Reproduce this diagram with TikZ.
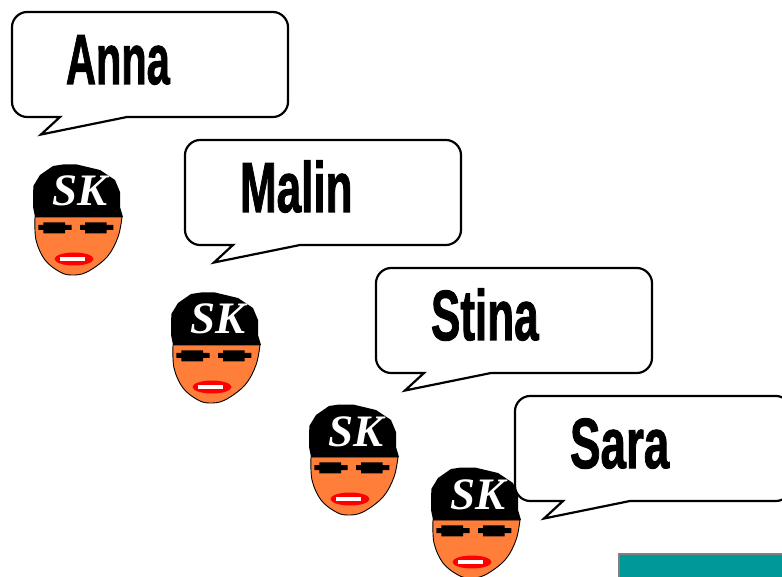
\documentclass[tikz,border=0pt]{standalone}
\usepackage{fontspec}
\usepackage{graphicx}
\setmainfont{Liberation Serif}
\newfontfamily\namefont[BoldFeatures={FakeBold=1.6}]{Liberation Sans}
\tikzset{
  bubbleline/.style={draw=black,fill=white,line width=2.2pt,line join=miter},
  namelabel/.style={anchor=base west,inner sep=0pt,outer sep=0pt,font=\namefont\bfseries\fontsize{71}{71}\selectfont},
  pics/face/.style={code={
    \path[fill=faceorange,draw=black,line width=0.9pt]
      plot[smooth,tension=0.6] coordinates {(2,52) (3,75) (12,95) (27,107) (39,110) (54,107) (74,92) (85,72) (89,52)} -- cycle;
    \path[fill=black]
      (2,52) -- (0,42) -- (0.3,21) -- (7,10) -- (20,1) -- (30,-0.5) -- (44,-0.5) -- (67,5) -- (82,15) -- (87,27) -- (87,42) -- (90,52) -- cycle;
    \fill[black] (10.3,57.3) rectangle (32,68.3) (5.3,60) rectangle (38.7,65)
                 (52,57.3) rectangle (73.7,68.3) (47,60) rectangle (80.3,65);
    \fill[red] (41,94) ellipse [x radius=19.5,y radius=6.5];
    \fill[white] (27,91.7) rectangle (52,96);
    \node[anchor=base,inner sep=0pt,text=white,font=\rmfamily\bfseries\itshape\fontsize{45}{45}\selectfont] at (47,41) {SK};
  }},
  pics/bubble/.style={code={
    \path[bubbleline]
      (15,0) -- (261,0) .. controls (269,0) and (276,7) .. (276,15) -- (276,90)
      .. controls (276,98) and (269,105) .. (261,105) -- (115,105) -- (29,122.5) -- (48,105) -- (15,105)
      .. controls (7,105) and (0,98) .. (0,90) -- (0,15) .. controls (0,7) and (7,0) .. (15,0) -- cycle;
  }},
}
\definecolor{faceorange}{HTML}{FF7F3A}
\definecolor{tealbox}{HTML}{009999}
\newcommand{\nameword}[2]{\scalebox{#1}[1]{#2}}
\begin{document}
\begin{tikzpicture}[x=1pt,y=-1pt]
\useasboundingbox (0,0) rectangle (782,577);
\clip (0,0) rectangle (782,577);
\fill[white] (0,0) rectangle (782,577);
\path[draw=gray,fill=tealbox,line width=2pt] (619,554) rectangle (800,600);
\pic at (33,165) {face};
\pic at (171,293) {face};
\pic at (309,405) {face};
\pic at (431,468) {face};
\pic at (12,12) {bubble};
\pic at (185,140) {bubble};
\pic at (376,268) {bubble};
\pic at (515,396) {bubble};
\node[namelabel] (anna) at (66,84) {\nameword{0.585}{Anna}};
\node[namelabel] (malin) at (240,212) {\nameword{0.62}{Malin}};
\node[namelabel] (stina) at (431,340) {\nameword{0.62}{Stina}};
\node[namelabel] (sara) at (570,468) {\nameword{0.645}{Sara}};
\end{tikzpicture}
\end{document}
